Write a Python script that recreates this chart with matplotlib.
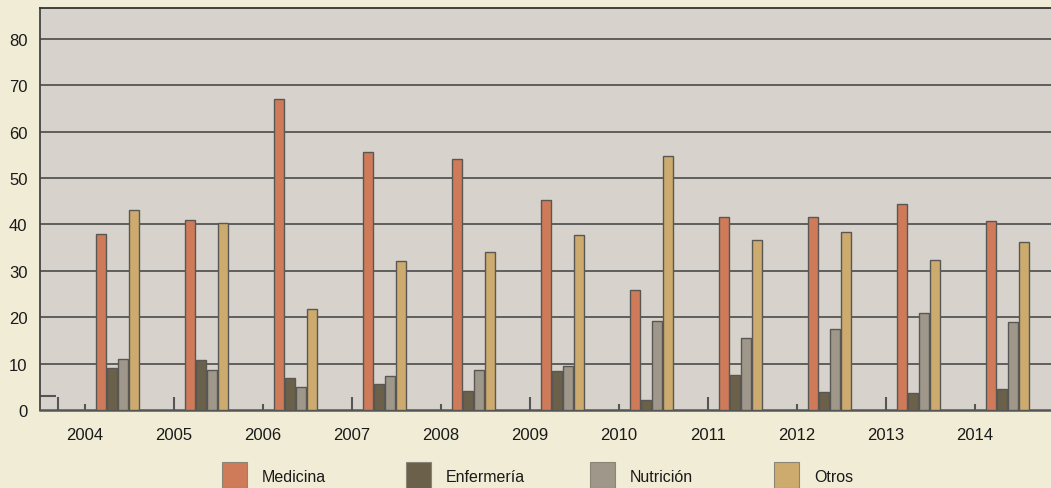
import numpy as np
import matplotlib.pyplot as plt
from matplotlib.patches import Rectangle

plt.rcParams['font.family'] = ['Liberation Sans', 'DejaVu Sans']

years = ['2004', '2005', '2006', '2007', '2008', '2009', '2010', '2011', '2012', '2013', '2014']
series = ['Medicina', 'Enfermería', 'Nutrición', 'Otros']
medicina = [38.0, 40.9, 67.1, 55.6, 54.1, 45.3, 25.9, 41.6, 41.6, 44.4, 40.8]
enfermeria = [9.1, 10.8, 6.9, 5.5, 4.2, 8.4, 2.2, 7.5, 3.8, 3.6, 4.5]
nutricion = [11.1, 8.7, 5.0, 7.4, 8.7, 9.4, 19.1, 15.5, 17.5, 20.9, 19.0]
otros = [43.1, 40.3, 21.7, 32.1, 34.1, 37.7, 54.8, 36.6, 38.4, 32.3, 36.2]
values = [medicina, enfermeria, nutricion, otros]
colors = ['#cf7a58', '#6b614a', '#9e978a', '#cdaa6d']

# little stubs along the baseline under each year label
stub_heights = [1.3, 2.8, 1.3, 2.8, 1.3, 2.8, 1.3, 2.8, 1.3, 2.8, 1.3]

bg = '#f1ecd5'
fig = plt.figure(figsize=(10.51, 4.89), dpi=100, facecolor=bg)
ax = fig.add_axes([40 / 1051, 78 / 489, 1 - 40 / 1051, (411 - 9.3) / 489])
ax.set_facecolor('#d7d3cc')

x = np.arange(len(years))
step = 0.126
w = 0.112
for i, (vals, col) in enumerate(zip(values, colors)):
    ax.bar(x + (i - 1.5) * step, vals, width=w, color=col,
           edgecolor='#595754', linewidth=1, zorder=3)

ax.set_ylim(0, 86.6)
ax.set_xlim(-0.871, 10.49)
ax.set_yticks(range(0, 81, 10))
for yv in range(10, 81, 10):
    ax.axhline(yv, color='#555555', lw=1.3, zorder=1)

lab_x = x - 0.365
ax.set_xticks(lab_x)
ax.set_xticklabels(years)
ax.vlines(lab_x, 0, stub_heights, color='#555555', lw=1.5, zorder=2)
ax.vlines(-0.67, 0, 2.8, color='#555555', lw=1.5, zorder=2)
ax.hlines(2.95, -0.871, -0.69, color='#555555', lw=1.5, zorder=2)

ax.tick_params(length=0, labelsize=12, colors='#1a1a1a')
ax.tick_params(axis='y', pad=9)
ax.tick_params(axis='x', pad=12)
ax.spines['right'].set_visible(False)
ax.spines['top'].set_color('#333333')
ax.spines['left'].set_color('#444444')
ax.spines['bottom'].set_color('#555555')
ax.spines['top'].set_linewidth(1.3)
ax.spines['left'].set_linewidth(1.3)
ax.spines['bottom'].set_linewidth(1.8)

# legend, placed by hand
for i, (name, col) in enumerate(zip(series, colors)):
    px = 222 + i * 184
    fig.patches.append(Rectangle((px / 1051, 0), 25 / 1051, 26 / 489,
                                 transform=fig.transFigure, facecolor=col,
                                 edgecolor='#8a8577', lw=0.8))
    fig.text((px + 40) / 1051, 11 / 489, name, fontsize=11.5,
             va='center', ha='left', color='#1a1a1a')

fig.savefig('out.png', facecolor=bg)
